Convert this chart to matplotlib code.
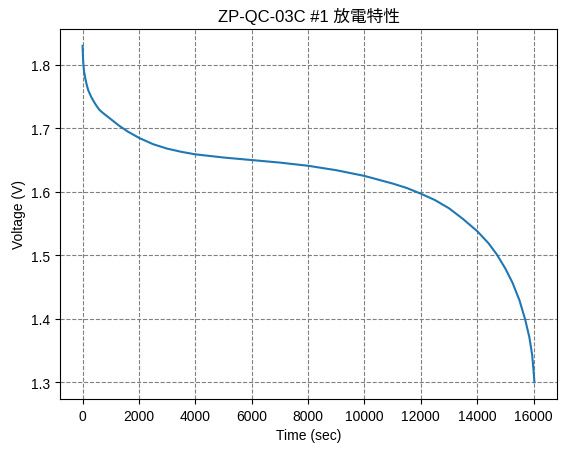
import matplotlib
matplotlib.use("Agg")
import matplotlib.pyplot as plt

plt.rcParams['font.family'] = ['Liberation Sans', 'Noto Sans CJK JP', 'DejaVu Sans']

time_sec = [0, 20, 50, 100, 150, 200, 300, 400, 500, 600, 700, 900, 1100, 1300,
            1600, 2000, 2500, 3000, 3500, 4000, 5000, 6000, 7000, 8000, 9000,
            10000, 10500, 11000, 11500, 12000, 12500, 13000, 13500, 14000,
            14400, 14700, 15000, 15250, 15500, 15700, 15850, 15950, 16000, 16030]
voltage = [1.830, 1.805, 1.790, 1.778, 1.768, 1.760, 1.750, 1.742, 1.735, 1.729,
           1.725, 1.718, 1.711, 1.704, 1.695, 1.685, 1.675, 1.668, 1.663, 1.659,
           1.654, 1.650, 1.646, 1.641, 1.634, 1.625, 1.619, 1.613, 1.606, 1.597,
           1.587, 1.574, 1.557, 1.538, 1.519, 1.501, 1.479, 1.457, 1.429, 1.399,
           1.371, 1.343, 1.318, 1.300]

title = "ZP-QC-03C #1 放電特性"
xlabel = "Time (sec)"
ylabel = "Voltage (V)"

fig = plt.figure(figsize=(5.65, 4.52), dpi=100)
ax = fig.add_axes([60/565, 52/452, 497/565, 370/452])
ax.plot(time_sec, voltage, color='#1f77b4', linewidth=1.5)
ax.grid(True, linestyle='--', color='gray', linewidth=0.8)
ax.set_title(title, fontsize=12)
ax.set_xlabel(xlabel)
ax.set_ylabel(ylabel)
ax.set_yticks([1.3, 1.4, 1.5, 1.6, 1.7, 1.8])
fig.savefig("out.png", dpi=100)
